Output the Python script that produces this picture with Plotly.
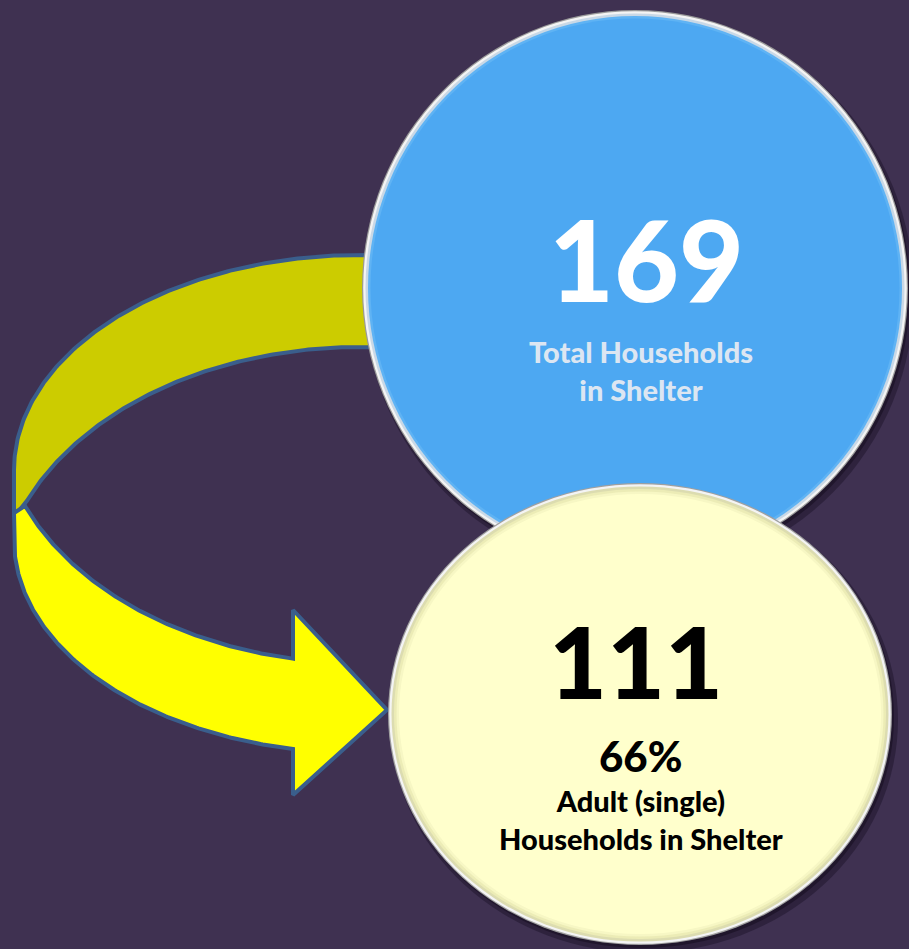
import numpy as np
import plotly.graph_objects as go

# ---------------- data ----------------
metric_names = ["Total Households in Shelter", "Adult (single) Households in Shelter"]
metric_values = [169, 111]
metric_share_pct = [None, 66]
label_lines = [["Total Households", "in Shelter"], ["Adult (single)", "Households in Shelter"]]

# ---------------- style ----------------
W, H = 909, 949
BG = "#3f3151"
BLUE = "#4da8f2"
CREAM = "#ffffcc"
OLIVE = "#cccc00"
YELLOW = "#ffff00"
OUTLINE = "#3a5e8c"
FONT = "Lato"

# circle geometry (pixel layout space)
blue_c = dict(cx=635, cy=288, rx=273, ry=278)
cream_c = dict(cx=640, cy=714, rx=252, ry=231)

# arrow geometry (ellipse arcs)
OUT_UP = dict(cx=360, cy=470, rx=346, ry=215)   # outer edge, upper band
OUT_LO = dict(cx=360, cy=540, rx=346, ry=213)   # outer edge, lower band
IN_UP = dict(cx=360, cy=600, rx=362, ry=253)    # inner edge, upper band
IN_LO = dict(cx=360, cy=410, rx=362, ry=253)    # inner edge, lower band
twist_outer_y = 517
shaft_end_x = 293
head_top_y, head_bot_y = 610, 795
tip = (387, 710)

fig = go.Figure()


def arc(e, t0, t1, n=200):
    t = np.radians(np.linspace(t0, t1, n))
    return e["cx"] + e["rx"] * np.cos(t), e["cy"] - e["ry"] * np.sin(t)


def theta_at_x(e, x, upper=True):
    a = np.degrees(np.arccos((x - e["cx"]) / e["rx"]))
    return a if upper else 360 - a


# meeting point of the two inner edges on the left
x_meet = 25
t_in_up = theta_at_x(IN_UP, x_meet, True)
t_in_lo = theta_at_x(IN_LO, x_meet, False)

# olive upper band (goes behind blue circle)
ox, oy = arc(OUT_UP, 70, 180)
ix, iy = arc(IN_UP, t_in_up, 70)
left_x = OUT_UP["cx"] - OUT_UP["rx"]
px = np.r_[ox, left_x, ix]
py = np.r_[oy, twist_outer_y, iy]
fig.add_trace(go.Scatter(x=px, y=py, fill="toself", mode="lines",
                         fillcolor=OLIVE, line=dict(color=OUTLINE, width=4),
                         hoverinfo="skip", showlegend=False))

# yellow lower band with arrow head
to_end = theta_at_x(OUT_LO, shaft_end_x, False)
ti_end = theta_at_x(IN_LO, shaft_end_x, False)
ox2, oy2 = arc(OUT_LO, 180, to_end)
ix2, iy2 = arc(IN_LO, ti_end, t_in_lo)
ax = np.r_[left_x, ox2, shaft_end_x, tip[0], shaft_end_x, ix2, left_x]
ay = np.r_[twist_outer_y - 4, oy2, head_bot_y, tip[1], head_top_y, iy2, twist_outer_y - 4]
fig.add_trace(go.Scatter(x=ax, y=ay, fill="toself", mode="lines",
                         fillcolor=YELLOW, line=dict(color=OUTLINE, width=4, ),
                         hoverinfo="skip", showlegend=False))

shapes = []


def ell(c, inset, color, dx=0, dy=0):
    return dict(type="circle", xref="x", yref="y",
                x0=c["cx"] - c["rx"] + inset + dx, x1=c["cx"] + c["rx"] - inset + dx,
                y0=c["cy"] - c["ry"] + inset + dy, y1=c["cy"] + c["ry"] - inset + dy,
                fillcolor=color, line=dict(width=0), layer="above")


def bevel_circle(c, fill, rim_dark, edge_tones):
    shapes.append(ell(c, -2, "rgba(15,8,25,0.35)", 4, 6))
    shapes.append(ell(c, 0, "rgba(15,8,25,0.45)", 2, 3))
    shapes.append(ell(c, 0, rim_dark))
    shapes.append(ell(c, 1.2, "#f4f4f4"))
    inset = 3.5
    for col in edge_tones:
        shapes.append(ell(c, inset, col))
        inset += 2.5
    shapes.append(ell(c, inset, fill))


bevel_circle(blue_c, BLUE, "#9a9a9a", ["#c9d8e6", "#5fb3f4"])
bevel_circle(cream_c, CREAM, "#a0a0a0", ["#dcdcb0", "#ececb6", "#f7f7c4"])

ann = []
# blue circle texts
ann.append(dict(x=blue_c["cx"] + 11, y=258, text=str(metric_values[0]), showarrow=False,
                font=dict(family=FONT, size=112, color="white", weight=900),
                xanchor="center", yanchor="middle"))
ann.append(dict(x=blue_c["cx"] + 6, y=370, text="<br>".join(label_lines[0]), showarrow=False,
                font=dict(family=FONT, size=29, color="#dce6f2", weight=900),
                xanchor="center", yanchor="middle", align="center"))
# cream circle texts
ann.append(dict(x=cream_c["cx"] - 4, y=660, text=str(metric_values[1]), showarrow=False,
                font=dict(family=FONT, size=100, color="black", weight=900),
                xanchor="center", yanchor="middle"))
ann.append(dict(x=cream_c["cx"], y=756, text=f"{metric_share_pct[1]}%", showarrow=False,
                font=dict(family=FONT, size=42, color="black", weight=900),
                xanchor="center", yanchor="middle"))
ann.append(dict(x=cream_c["cx"] + 1, y=819, text="<br>".join(label_lines[1]), showarrow=False,
                font=dict(family=FONT, size=29, color="black", weight=900),
                xanchor="center", yanchor="middle", align="center"))

fig.update_layout(
    width=W, height=H,
    margin=dict(l=0, r=0, t=0, b=0),
    paper_bgcolor=BG, plot_bgcolor=BG,
    xaxis=dict(range=[0, W], visible=False, fixedrange=True),
    yaxis=dict(range=[H, 0], visible=False, fixedrange=True),
    shapes=shapes, annotations=ann, showlegend=False,
)

fig.write_html(
    "out.html",
    config={"displayModeBar": False},
    post_script="document.body.style.margin='0';document.body.style.overflow='hidden';"
                "document.body.style.background='" + BG + "';",
)
